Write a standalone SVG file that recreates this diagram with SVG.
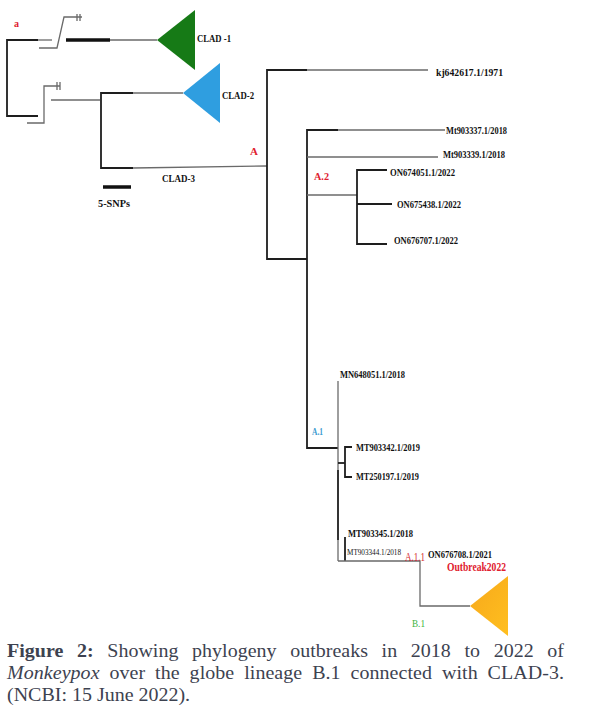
<svg xmlns="http://www.w3.org/2000/svg" width="597" height="717" viewBox="0 0 597 717">
<defs>
<style>
.dk{stroke:#1e1e1e;stroke-width:1.8;fill:none}
.gr{stroke:#6a6a6a;stroke-width:1.3;fill:none}
.th{stroke:#111;stroke-width:3.5;fill:none}
.lb{font-family:"Liberation Serif","Times New Roman",serif;font-weight:bold;font-size:10px;fill:#111}
.lb11{font-size:11px}
.red{font-family:"Liberation Serif","Times New Roman",serif;font-weight:bold;fill:#e0202e}
.cap{font-family:"Liberation Serif","Times New Roman",serif;font-size:18.5px;fill:#3d4250}
</style>
<linearGradient id="og" x1="0" y1="0" x2="1" y2="1">
<stop offset="0" stop-color="#f7a81b"/>
<stop offset="1" stop-color="#ffbf1f"/>
</linearGradient>
</defs>
<rect width="597" height="717" fill="#fff"/>

<g id="connectors">
<path class="dk" d="M38,40 H7 V116 H38"/>
<path class="gr" d="M38,40 H52"/>
<path class="gr" d="M39,48 H57 L64,17 H82"/>
<path class="gr" d="M77,14 V21 M80,14 V21"/>
<path class="th" d="M66,40 H110"/>
<path class="gr" d="M110,40 H157"/>
<path class="gr" d="M27,123 H44 V86 H60"/>
<path class="gr" d="M57,82 V90 M60,82 V90"/>
<path class="gr" d="M51,100 H100"/>
<path class="dk" d="M133,93 H101 V168 H133"/>
<path class="gr" d="M133,93 H183"/>
<path class="gr" d="M133,168 L267,166"/>
<path class="th" d="M103,187 H131"/>
<path class="dk" d="M307,70 H267 V259 H307"/>
<path class="gr" d="M307,70 H428"/>
<path class="dk" d="M338,130 H307 V448 H338"/>
<path class="gr" d="M338,130 H445"/>
<path class="gr" d="M307,157 H438"/>
<path class="gr" d="M307,195 H357"/>
<path class="dk" d="M387,170 H357 V244 H387"/>
<path class="dk" d="M357,204 H392"/>
<path class="gr" d="M338,381 V470"/>
<path class="dk" d="M338,470 V540"/>
<path class="gr" d="M338,540 V561"/>
<path class="dk" d="M338,463 H345"/>
<path class="dk" d="M352,447 H345 V477 H352"/>
<path class="dk" d="M345,537 V561"/>
<path class="gr" d="M338,561 H420 V606 H470"/>
</g>

<g id="clad1">
<polygon points="157,40 195,10 195,70" fill="#167a16"/>
<text class="lb lb11" x="197" y="42" textLength="34" lengthAdjust="spacingAndGlyphs">CLAD -1</text>
</g>
<g id="clad2">
<polygon points="183,93 220,63 220,123" fill="#2f9ee0"/>
<text class="lb lb11" x="222" y="99" textLength="32" lengthAdjust="spacingAndGlyphs">CLAD-2</text>
</g>
<g id="clad3">
<text class="lb lb11" x="162" y="182" textLength="33" lengthAdjust="spacingAndGlyphs">CLAD-3</text>
</g>
<g id="scale">
<text class="lb lb11" x="98" y="207" textLength="32" lengthAdjust="spacingAndGlyphs">5-SNPs</text>
</g>
<g id="label-a"><text class="red" x="14" y="27" font-size="10">a</text></g>
<g id="label-A"><text class="red" x="250" y="155" font-size="11">A</text></g>
<g id="label-A2"><text class="red" x="314" y="180" font-size="11" textLength="15" lengthAdjust="spacingAndGlyphs">A.2</text></g>
<g id="label-A1"><text x="312" y="435" font-family="Liberation Serif, serif" font-weight="bold" font-size="10" fill="#3a9ad0" textLength="11" lengthAdjust="spacingAndGlyphs">A.1</text></g>
<g id="label-A11" transform="translate(405 561) scale(0.72 1)"><text x="0" y="0" font-family="Liberation Serif, serif" font-size="12.5" fill="#d41f2e">A.1.1</text></g>
<g id="label-B1"><text x="412" y="627" font-family="Liberation Serif, serif" font-size="11" fill="#3db43d" textLength="13" lengthAdjust="spacingAndGlyphs">B.1</text></g>

<g id="kj642617"><text class="lb" x="436" y="76" textLength="67" lengthAdjust="spacingAndGlyphs">kj642617.1/1971</text></g>
<g id="mt903337"><text class="lb" x="446" y="134" textLength="61" lengthAdjust="spacingAndGlyphs">Mt903337.1/2018</text></g>
<g id="mt903339"><text class="lb" x="443" y="158" textLength="62" lengthAdjust="spacingAndGlyphs">Mt903339.1/2018</text></g>
<g id="on674051"><text class="lb" x="390" y="176" textLength="65" lengthAdjust="spacingAndGlyphs">ON674051.1/2022</text></g>
<g id="on675438"><text class="lb" x="397" y="208" textLength="64" lengthAdjust="spacingAndGlyphs">ON675438.1/2022</text></g>
<g id="on676707"><text class="lb" x="394" y="244" textLength="64" lengthAdjust="spacingAndGlyphs">ON676707.1/2022</text></g>
<g id="mn648051"><text class="lb" x="340" y="378" textLength="65" lengthAdjust="spacingAndGlyphs">MN648051.1/2018</text></g>
<g id="mt903342"><text class="lb" x="356" y="451" textLength="64" lengthAdjust="spacingAndGlyphs">MT903342.1/2019</text></g>
<g id="mt250197"><text class="lb" x="356" y="480" textLength="63" lengthAdjust="spacingAndGlyphs">MT250197.1/2019</text></g>
<g id="mt903345"><text class="lb" x="348" y="537" textLength="65" lengthAdjust="spacingAndGlyphs">MT903345.1/2018</text></g>
<g id="mt903344"><text class="lb" x="347" y="555" style="font-size:7.5px;font-weight:normal" textLength="54" lengthAdjust="spacingAndGlyphs">MT903344.1/2018</text></g>
<g id="on676708"><text class="lb" x="428" y="558" textLength="64" lengthAdjust="spacingAndGlyphs">ON676708.1/2021</text></g>
<g id="outbreak2022">
<text class="red" x="447" y="571" font-size="12" textLength="59" lengthAdjust="spacingAndGlyphs">Outbreak2022</text>
<polygon points="470,606 508,576 508,636" fill="url(#og)"/>
</g>

<g id="caption" class="cap" transform="scale(1.08 1)">
<text x="6.5" y="657" word-spacing="8" textLength="515.7" lengthAdjust="spacing"><tspan font-weight="bold">Figure 2:</tspan> Showing phylogeny outbreaks in 2018 to 2022 of</text>
<text x="6.5" y="679" word-spacing="4.5" textLength="515.7" lengthAdjust="spacing"><tspan font-style="italic">Monkeypox</tspan> over the globe lineage B.1 connected with CLAD-3.</text>
<text x="6.5" y="701">(NCBI: 15 June 2022).</text>
</g>
</svg>
